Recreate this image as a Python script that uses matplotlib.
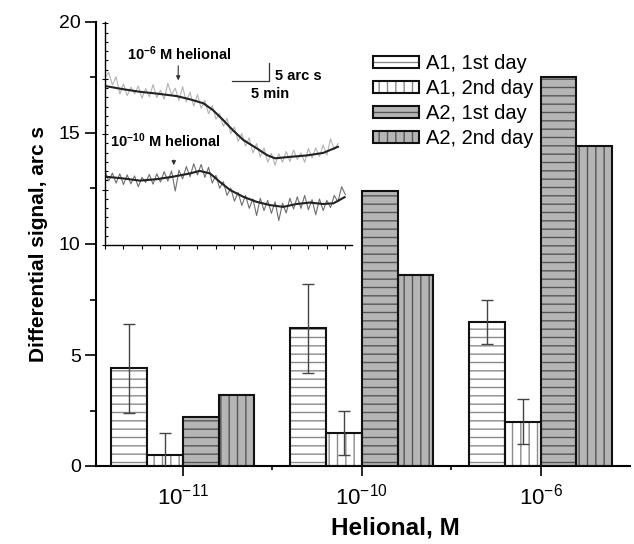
import numpy as np
import matplotlib
matplotlib.use("Agg")
import matplotlib.pyplot as plt
from matplotlib.patches import Patch
from matplotlib.legend_handler import HandlerTuple
from matplotlib.ticker import MultipleLocator, FixedLocator

plt.rcParams['font.family'] = ['Liberation Sans', 'DejaVu Sans']
plt.rcParams['mathtext.fontset'] = 'custom'
plt.rcParams['mathtext.rm'] = 'Liberation Sans'
plt.rcParams['mathtext.it'] = 'Liberation Sans:italic'
plt.rcParams['mathtext.bf'] = 'Liberation Sans:bold'
plt.rcParams['hatch.linewidth'] = 1.0

# ---------------- data ----------------
categories = [r'$10^{-11}$', r'$10^{-10}$', r'$10^{-6}$']
series_names = ['A1, 1st day', 'A1, 2nd day', 'A2, 1st day', 'A2, 2nd day']
a1_day1 = [4.4, 6.2, 6.5]
a1_day1_err = [2.0, 2.0, 1.0]
a1_day2 = [0.5, 1.5, 2.0]
a1_day2_err = [1.0, 1.0, 1.0]
a2_day1 = [2.2, 12.4, 17.5]
a2_day2 = [3.2, 8.6, 14.4]

# inset traces (time in min, signal in arc s)
smooth_hi_t = [0, 2.5, 4.7, 7.0, 9.7, 11.5, 13.3, 14.6, 16.0, 17.3, 18.7, 20.5, 21.9, 23.0, 25.0, 27.3, 29.5, 31.5]
smooth_hi_s = [44.2, 43.3, 42.6, 42.1, 41.4, 40.5, 39.4, 37.5, 34.7, 31.9, 29.2, 26.9, 25.0, 24.1, 24.5, 24.9, 25.6, 27.3]
smooth_lo_t = [0, 2.5, 4.7, 7.0, 9.2, 11.5, 12.8, 14.2, 15.5, 16.9, 18.7, 20.5, 22.3, 24.1, 25.9, 27.7, 29.5, 30.9, 32.4]
smooth_lo_s = [19.0, 18.5, 17.9, 18.3, 19.0, 19.9, 20.6, 19.9, 17.6, 15.3, 13.4, 12.0, 11.1, 10.6, 11.4, 11.8, 11.4, 11.6, 13.3]
raw_hi_s = [46.5, 48.0, 44.5, 46.8, 42.0, 44.8, 41.5, 43.9, 42.0, 44.2, 40.8, 43.5, 41.2, 44.6, 41.0, 43.0,
            40.5, 45.0, 41.8, 43.6, 40.2, 44.0, 39.8, 42.5, 38.6, 41.8, 38.0, 40.2, 36.5, 38.8, 35.0, 36.5,
            33.0, 35.2, 31.0, 32.8, 28.8, 31.0, 27.5, 29.8, 25.6, 28.2, 24.5, 27.0, 23.0, 25.5, 22.2, 25.4,
            23.0, 26.0, 23.2, 26.4, 23.8, 25.6, 23.0, 26.8, 24.2, 27.0, 24.6, 27.8, 25.0, 29.5, 26.5, 28.2]
raw_lo_s = [20.5, 17.8, 20.0, 17.2, 19.8, 16.8, 19.5, 17.0, 19.2, 16.2, 18.8, 17.4, 19.6, 16.9, 19.8, 17.5,
            20.4, 17.8, 20.6, 15.0, 20.8, 18.4, 21.8, 19.0, 22.6, 19.5, 22.4, 18.8, 21.6, 17.2, 19.4, 15.8,
            17.6, 13.8, 15.8, 12.2, 14.6, 11.0, 13.8, 10.2, 12.8, 8.2, 13.0, 9.6, 12.4, 8.8, 12.0, 6.8,
            11.6, 8.9, 13.0, 10.0, 13.4, 10.2, 13.8, 9.8, 12.6, 8.4, 12.8, 9.6, 12.4, 10.4, 13.8, 12.0,
            16.2, 14.0]
raw_step = 0.5
raw_hi_t = np.arange(len(raw_hi_s)) * raw_step
raw_lo_t = np.arange(len(raw_lo_s)) * raw_step

# ---------------- figure ----------------
W, H = 634, 544
fig = plt.figure(figsize=(W / 100, H / 100), dpi=100)
ax = fig.add_axes([96 / W, (H - 466) / H, (630 - 96) / W, (466 - 22) / H])

gray = '#b5b5b5'
styles = [
    dict(fc='white', hatch='--', hc='#8a8a8a'),
    dict(fc='white', hatch='||', hc='#8a8a8a'),
    dict(fc=gray, hatch='--', hc='#555555'),
    dict(fc=gray, hatch='||', hc='#555555'),
]
values = [a1_day1, a1_day2, a2_day1, a2_day2]
errs = [a1_day1_err, a1_day2_err, None, None]
bw = 0.2
x = np.arange(len(categories))
handles = []
for i, (vals, st) in enumerate(zip(values, styles)):
    pos = x + (i - 1.5) * bw
    ax.bar(pos, vals, bw, color=st['fc'], edgecolor=st['hc'], hatch=st['hatch'], linewidth=0, zorder=2)
    ax.bar(pos, vals, bw, fill=False, edgecolor='#111111', linewidth=1.5, zorder=3)
    if errs[i] is not None:
        ax.errorbar(pos, vals, yerr=errs[i], fmt='none', ecolor='#444444', elinewidth=1.0,
                    capsize=4, capthick=1.0, zorder=4)
    h1 = Patch(facecolor=st['fc'], edgecolor=st['hc'], hatch=st['hatch'], linewidth=0)
    h2 = Patch(facecolor='none', edgecolor='#111111', linewidth=1.5)
    handles.append((h1, h2))

ax.set_xlim(-0.486, 2.5)
ax.set_ylim(0, 20)
ax.spines['top'].set_visible(False)
ax.spines['right'].set_visible(False)
ax.spines['left'].set_linewidth(1.5)
ax.spines['bottom'].set_linewidth(1.5)
ax.set_xticks(x)
ax.set_xticklabels(categories, fontsize=16)
ax.xaxis.set_minor_locator(FixedLocator([0.5, 1.5]))
ax.set_yticks([0, 5, 10, 15, 20])
ax.yaxis.set_minor_locator(MultipleLocator(2.5))
ax.tick_params(axis='y', which='major', direction='out', length=8, width=1.2, labelsize=14, pad=3)
ax.tick_params(axis='y', which='minor', direction='out', length=4, width=1.2)
ax.tick_params(axis='x', which='major', direction='out', length=7, width=1.2, pad=6)
ax.tick_params(axis='x', which='minor', direction='out', length=3, width=1.2)
ax.set_ylabel('Differential signal, arc s', fontsize=15, fontweight='bold', labelpad=8)
fig.text(395 / W, 1 - 528 / H, 'Helional, M', fontsize=17.5, fontweight='bold', ha='center', va='center')

leg = ax.legend(handles, series_names, handler_map={tuple: HandlerTuple(ndivide=1, pad=0)},
                loc='upper left', bbox_to_anchor=(359 / W, (H - 40) / H), bbox_transform=fig.transFigure,
                frameon=False, fontsize=14.5, handlelength=2.3, handleheight=0.55,
                handletextpad=0.35, labelspacing=0.3, borderpad=0.2)

# ---------------- inset ----------------
ins = fig.add_axes([105 / W, (H - 245) / H, (352 - 105) / W, (245 - 22) / H])
ins.set_facecolor('none')
ins.plot(raw_hi_t, raw_hi_s, color='#b3b3b3', lw=0.8)
ins.plot(raw_lo_t, raw_lo_s, color='#6e6e6e', lw=0.8)
ins.plot(smooth_hi_t, smooth_hi_s, color='#222222', lw=1.5)
ins.plot(smooth_lo_t, smooth_lo_s, color='#222222', lw=1.5)
ins.set_xlim(0, 33.4)
ins.set_ylim(0, 62)
ins.spines['top'].set_visible(False)
ins.spines['right'].set_visible(False)
ins.spines['left'].set_linewidth(1.0)
ins.spines['bottom'].set_linewidth(1.0)
ins.xaxis.set_major_locator(MultipleLocator(2.5))
ins.yaxis.set_major_locator(MultipleLocator(15.4))
ins.yaxis.set_minor_locator(MultipleLocator(15.4 / 6))
ins.tick_params(axis='x', which='major', direction='out', length=3, width=0.8, labelbottom=False)
ins.tick_params(axis='y', which='major', direction='inout', length=5, width=0.8, labelleft=False)
ins.tick_params(axis='y', which='minor', direction='in', length=2.5, width=0.8)

ins.text(3.0, 53.1, r'$\mathbf{10^{-6}}$ M helional', fontsize=10.5, fontweight='bold', va='center', ha='left')
ins.annotate('', xy=(9.9, 45.0), xytext=(9.9, 50.6),
             arrowprops=dict(arrowstyle='-|>', color='#333333', lw=0.8, mutation_scale=6))
ins.text(0.7, 28.9, r'$\mathbf{10^{-10}}$ M helional', fontsize=10.5, fontweight='bold', va='center', ha='left')
ins.annotate('', xy=(9.3, 21.4), xytext=(9.3, 24.4),
             arrowprops=dict(arrowstyle='-|>', color='#333333', lw=0.8, mutation_scale=6))
ins.plot([17.2, 22.2, 22.2], [45.6, 45.6, 50.6], color='#333333', lw=0.9)
ins.text(23.0, 47.0, '5 arc s', fontsize=10.5, fontweight='bold', va='center', ha='left')
ins.text(19.8, 41.9, '5 min', fontsize=10.5, fontweight='bold', va='center', ha='left')

fig.savefig('out.png', dpi=100)
